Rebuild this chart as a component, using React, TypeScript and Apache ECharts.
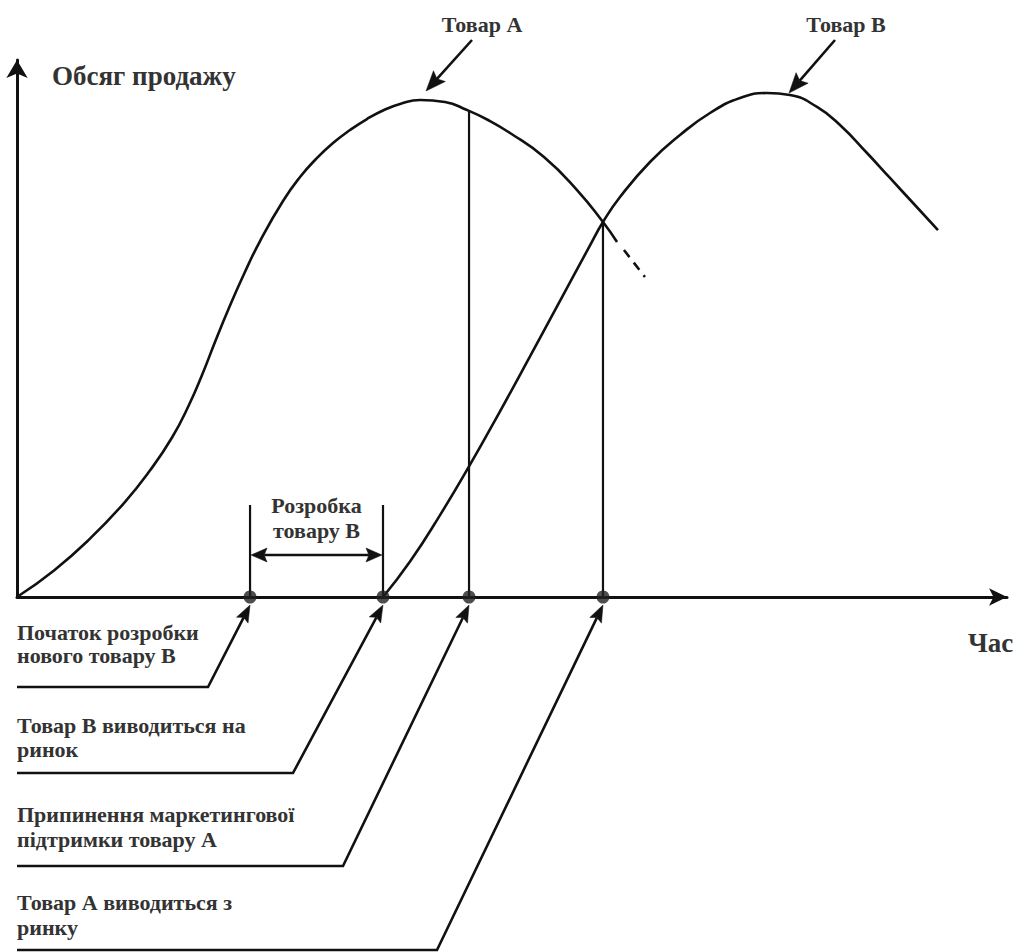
import React, { useEffect, useRef } from "react";
import * as echarts from "echarts";

// ---- DATA (time units on x, sales-volume units on y) ----
const productA_x = [0, 3.74, 7.37, 10.81, 13.43, 15.66, 17.37, 18.69, 20.0, 21.41, 22.93, 24.55, 26.87, 28.59, 30.2, 31.92, 33.64, 35.35, 37.07, 38.69, 40.71, 43.23, 45.45, 47.58, 49.8, 53.23, 56.57, 59.19, 60.61];
const productA_y = [0, 4.95, 10.86, 17.5, 23.56, 29.7, 35.75, 41.34, 47.49, 53.82, 60.15, 66.29, 73.74, 78.21, 81.56, 84.54, 86.96, 89.01, 90.69, 91.81, 92.55, 92.18, 90.69, 88.83, 86.41, 81.94, 75.79, 69.83, 66.11];
// dashed continuation of product A after withdrawal
const productA_tail_x = [61.31, 63.43];
const productA_tail_y = [64.62, 59.59];

const productB_x = [36.97, 39.7, 42.73, 45.76, 48.79, 51.82, 54.85, 57.88, 59.19, 60.91, 63.94, 66.97, 70.0, 73.03, 75.76, 78.08, 80.81, 83.13, 85.86, 88.18, 90.51, 93.03];
const productB_y = [0, 6.59, 15.25, 24.64, 34.58, 44.8, 55.14, 65.47, 69.83, 74.49, 81.01, 86.03, 90.13, 92.92, 93.85, 93.48, 91.25, 87.9, 82.68, 78.03, 73.37, 68.34];

// key moments on the time axis
const eventTimes = [23.54, 36.97, 45.66, 59.19];
// height reached by the vertical marker line of each moment
const eventLineTops = [17.13, 17.13, 90.6, 69.83];
const eventLabels = [
  ["Початок розробки", "нового товару В"],
  ["Товар В виводиться на", "ринок"],
  ["Припинення маркетингової", "підтримки товару А"],
  ["Товар А виводиться з", "ринку"],
];
const devBracketLevel = 7.82; // level of the "development" double arrow
const devLabel = ["Розробка", "товару В"];

const yAxisName = "Обсяг продажу";
const xAxisName = "Час";
const productNames = ["Товар А", "Товар В"];

// ---- STYLE / LAYOUT ----
const INK = "#111";
const TEXT = "#333";
const FONT = '"Liberation Serif", "Times New Roman", serif';

// leader layout (pixels)
const leaderUnderlineY = [687, 773, 866, 950];
const leaderBendX = [208, 293, 343, 437];
const labelBaselines = [
  [640, 663],
  [733, 757],
  [822, 847],
  [910, 935],
];

function zip(xs: number[], ys: number[]) {
  return xs.map((x, i) => [x, ys[i]]);
}

function arrowHead(tip: number[], from: number[], len: number, wid: number) {
  const dx = tip[0] - from[0];
  const dy = tip[1] - from[1];
  const d = Math.hypot(dx, dy) || 1;
  const ux = dx / d, uy = dy / d;
  const bx = tip[0] - ux * len, by = tip[1] - uy * len;
  const nx = -uy, ny = ux;
  const notch = [tip[0] - ux * len * 0.82, tip[1] - uy * len * 0.82];
  return {
    el: {
      type: "polygon",
      z: 20,
      shape: {
        points: [tip, [bx + (nx * wid) / 2, by + (ny * wid) / 2], notch, [bx - (nx * wid) / 2, by - (ny * wid) / 2]],
      },
      style: { fill: INK, stroke: INK, lineWidth: 0.5 },
    },
    notch,
  };
}

function txt(text: string, x: number, baseline: number, size: number, align = "left") {
  return {
    type: "text",
    z: 20,
    x,
    y: baseline - size * 0.35,
    style: {
      text,
      font: `bold ${size}px ${FONT}`,
      fill: TEXT,
      align,
      textAlign: align,
      verticalAlign: "middle",
      textVerticalAlign: "middle",
    },
  };
}

export default function App() {
  const ref = useRef<HTMLDivElement>(null);

  useEffect(() => {
    const chart = echarts.init(ref.current!, null, { renderer: "svg" });

    const lineSeries = (data: number[][], width: number, extra: any = {}) => ({
      type: "line",
      data,
      symbol: "none",
      silent: true,
      clip: false,
      smooth: extra.smooth || false,
      lineStyle: { color: INK, width, ...(extra.lineStyle || {}) },
      z: 3,
    });

    const axisCommon = {
      type: "value",
      min: 0,
      max: 100,
      axisTick: { show: false },
      axisLabel: { show: false },
      splitLine: { show: false },
    };

    chart.setOption({
      animation: false,
      backgroundColor: "#fff",
      grid: { left: 17, top: 60, width: 990, height: 537, containLabel: false },
      xAxis: {
        ...axisCommon,
        axisLine: { show: true, onZero: false, symbol: ["none", "arrow"], symbolSize: [13, 18], lineStyle: { color: INK, width: 3 } },
      },
      yAxis: {
        ...axisCommon,
        axisLine: { show: true, onZero: false, symbol: ["none", "arrow"], symbolSize: [16, 18], lineStyle: { color: INK, width: 3 } },
      },
      series: [
        lineSeries(zip(productA_x, productA_y), 2.6, { smooth: 0.5 }),
        lineSeries(zip(productA_tail_x, productA_tail_y), 2.6, { lineStyle: { type: [9, 7] } }),
        lineSeries(zip(productB_x, productB_y), 2.6, { smooth: 0.5 }),
        ...eventTimes.map((t, i) => lineSeries([[t, 0], [t, eventLineTops[i]]], 2.2)),
        {
          type: "scatter",
          data: eventTimes.map((t) => [t, 0]),
          symbol: "circle",
          symbolSize: 13,
          itemStyle: { color: "#222" },
          silent: true,
          clip: false,
          z: 5,
        },
      ],
    });

    const px = (x: number, y: number) => chart.convertToPixel({ gridIndex: 0 }, [x, y]) as number[];
    const g: any[] = [];

    // development double arrow
    const d0 = px(eventTimes[0], devBracketLevel);
    const d1 = px(eventTimes[1], devBracketLevel);
    const hA = arrowHead([d0[0] + 1, d0[1]], d1, 16, 14);
    const hB = arrowHead([d1[0] - 1, d1[1]], d0, 16, 14);
    g.push(hA.el, hB.el);
    g.push({ type: "line", z: 19, shape: { x1: hA.notch[0], y1: hA.notch[1], x2: hB.notch[0], y2: hB.notch[1] }, style: { stroke: INK, lineWidth: 2.5 } });
    const midX = (d0[0] + d1[0]) / 2;
    g.push(txt(devLabel[0], midX, 513, 22, "center"));
    g.push(txt(devLabel[1], midX, 538, 22, "center"));

    // leaders from labels to the events
    eventTimes.forEach((t, i) => {
      const p = px(t, 0);
      const tip = [p[0], p[1] + 8];
      const bend = [leaderBendX[i], leaderUnderlineY[i]];
      const h = arrowHead(tip, bend, 17, 13);
      g.push(h.el);
      g.push({
        type: "polyline",
        z: 19,
        shape: { points: [[17, leaderUnderlineY[i]], bend, h.notch] },
        style: { stroke: INK, lineWidth: 2.6, fill: null },
      });
      g.push(txt(eventLabels[i][0], 17, labelBaselines[i][0], 22));
      g.push(txt(eventLabels[i][1], 17, labelBaselines[i][1], 22));
    });

    // product name pointers
    const pointerFrom = [[472, 40], [835, 40]];
    const pointerTip = [[426, 91], [789, 93]];
    const nameCenters = [482, 846];
    [0, 1].forEach((i) => {
      const h = arrowHead(pointerTip[i], pointerFrom[i], 20, 16);
      g.push(h.el);
      g.push({ type: "line", z: 19, shape: { x1: pointerFrom[i][0], y1: pointerFrom[i][1], x2: h.notch[0], y2: h.notch[1] }, style: { stroke: INK, lineWidth: 2.6 } });
      g.push(txt(productNames[i], nameCenters[i], 32, 22, "center"));
    });

    g.push(txt(yAxisName, 52, 85, 27));
    g.push(txt(xAxisName, 968, 652, 27));

    chart.setOption({ graphic: g });

    return () => chart.dispose();
  }, []);

  return <div ref={ref} style={{ position: "absolute", left: 0, top: 0, width: 1017, height: 952 }} />;
}
